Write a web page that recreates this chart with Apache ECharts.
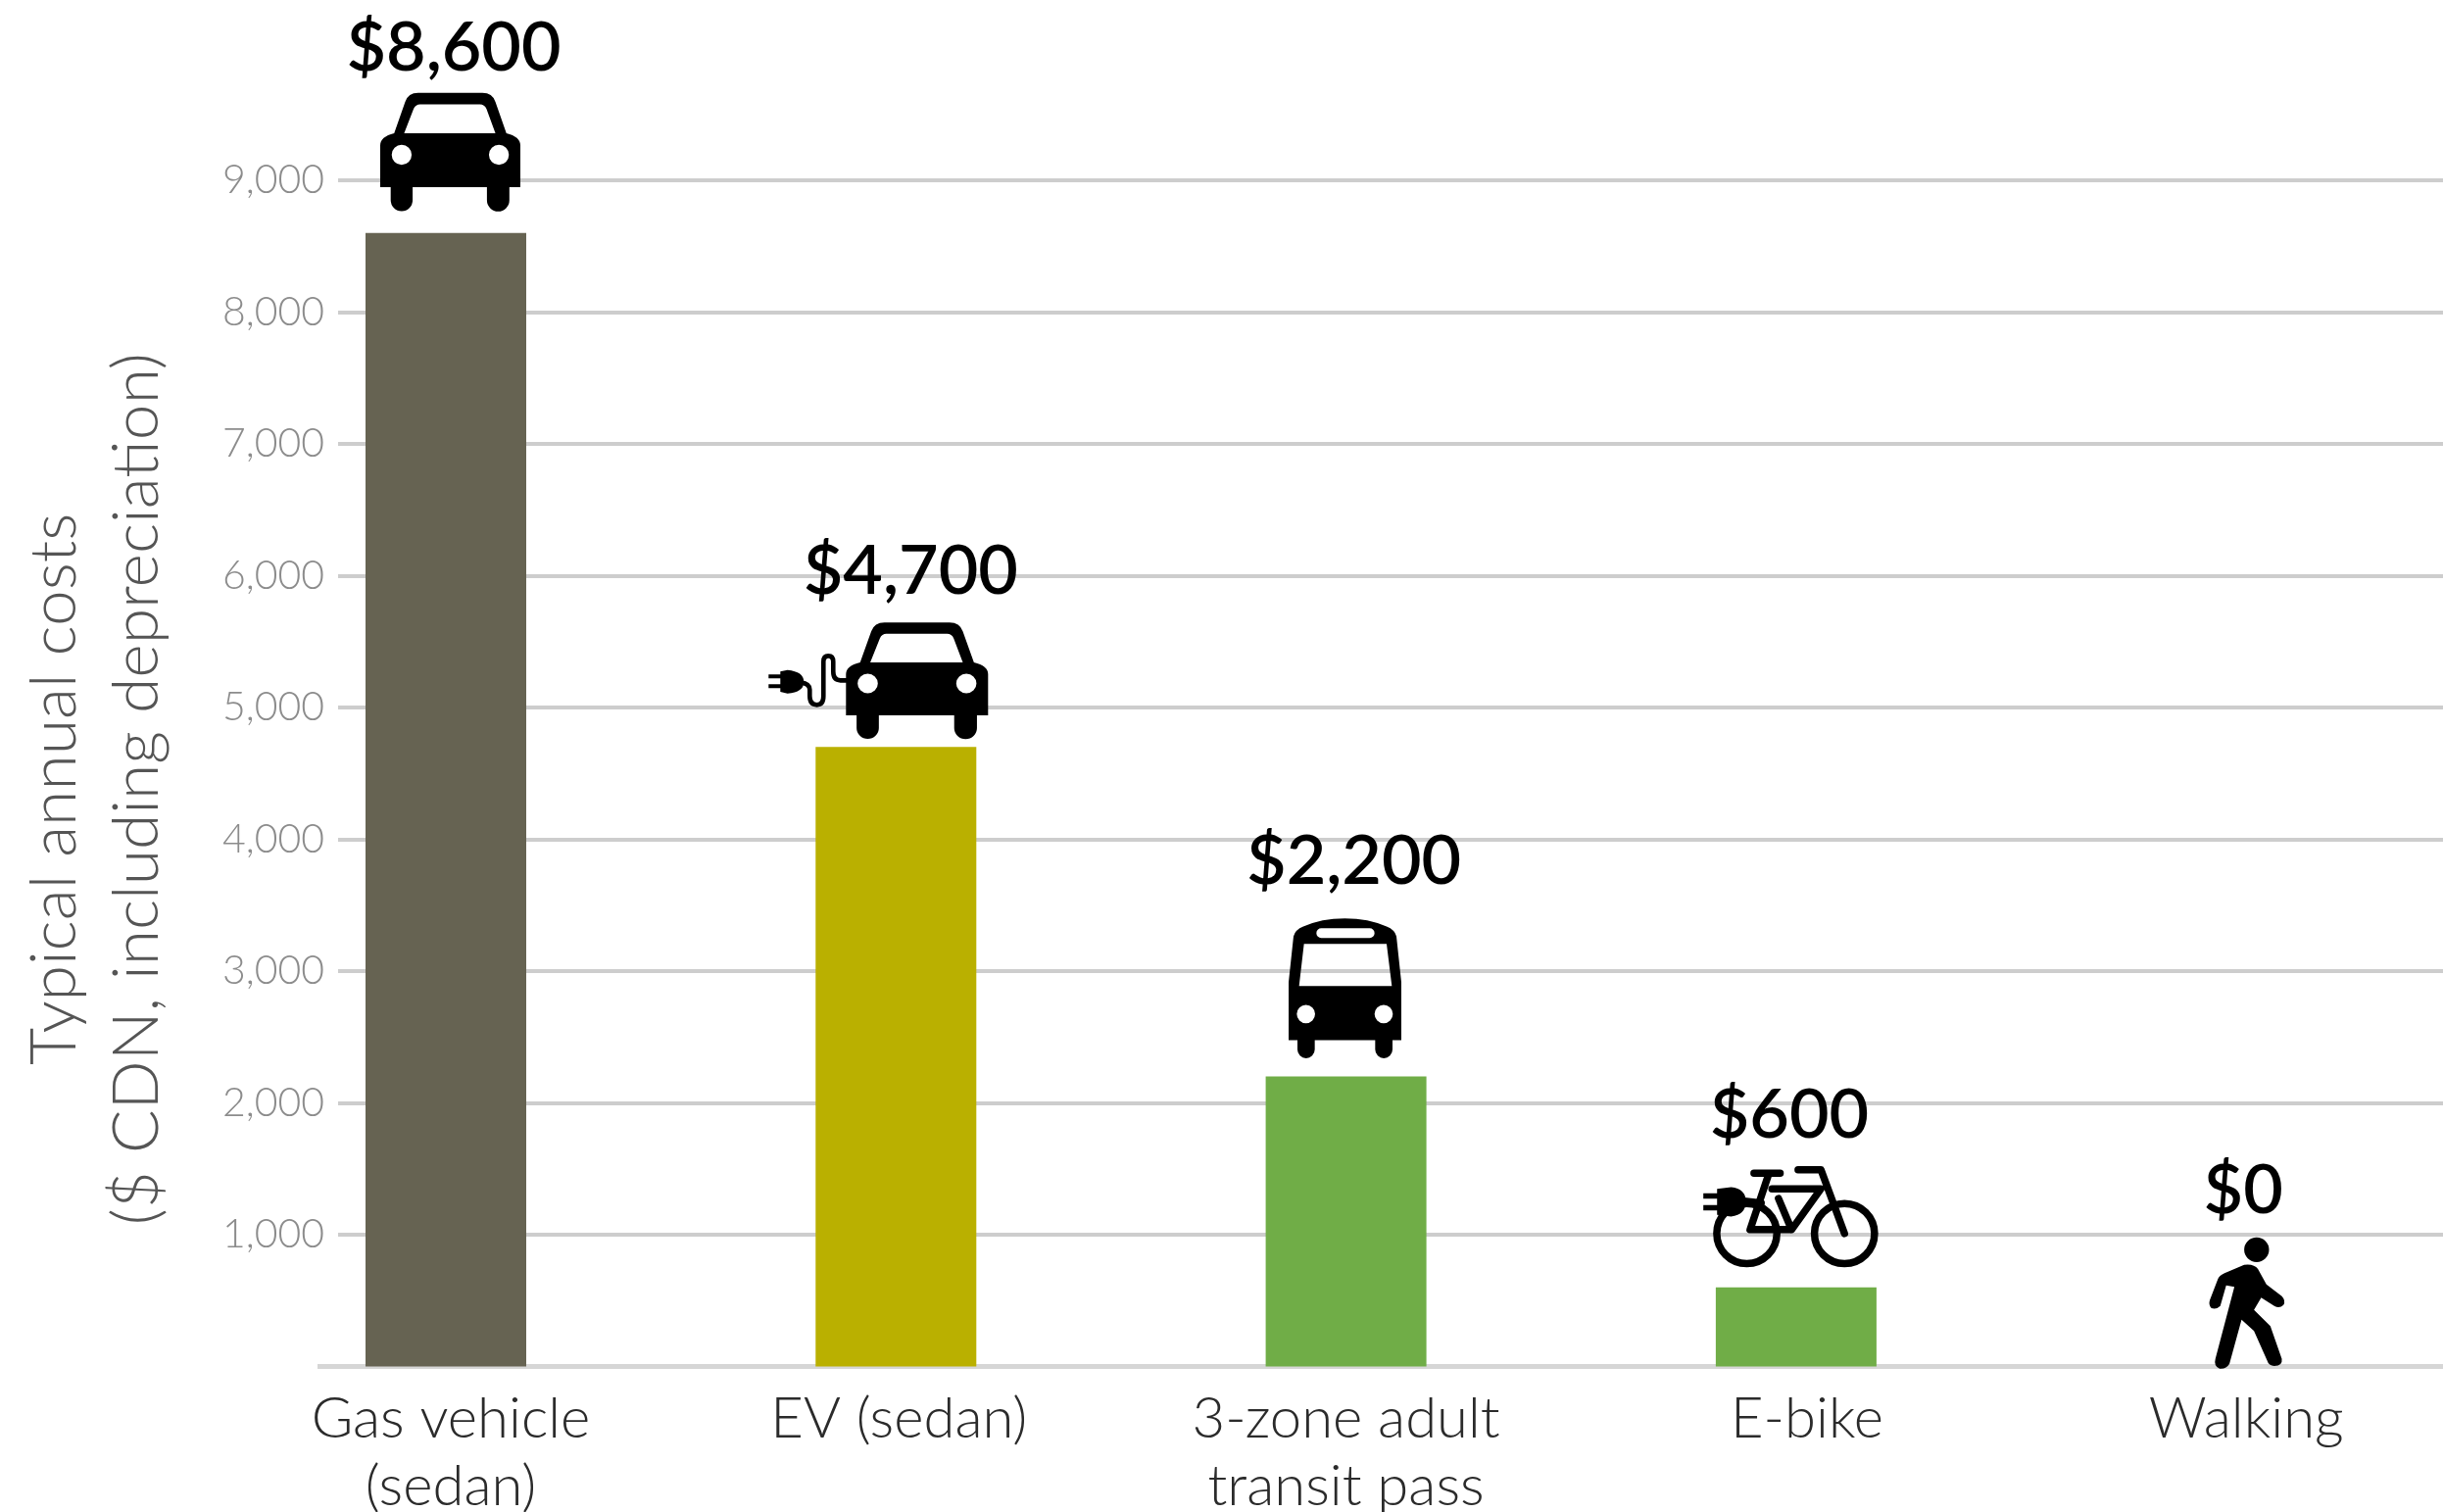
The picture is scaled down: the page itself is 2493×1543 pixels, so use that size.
<!DOCTYPE html>
<html><head><meta charset="utf-8">
<style>html,body{margin:0;padding:0;background:#fff}#c{width:2493px;height:1543px}</style>
<script src="https://cdn.jsdelivr.net/npm/echarts@6/dist/echarts.min.js"></script>
</head><body><div id="c"></div>
<script>
const categories = ['Gas vehicle\n(sedan)', 'EV (sedan)', '3-zone adult\ntransit pass', 'E-bike', 'Walking'];
const costs = [8600, 4700, 2200, 600, 0];
const barColors = ['#666352', '#bab000', '#70ad47', '#70ad47', '#70ad47'];
const yTicks = [1000, 2000, 3000, 4000, 5000, 6000, 7000, 8000, 9000];
const yTitle = 'Typical annual costs\n($ CDN, including depreciation)';

const carPath = 'M0,105 Q0,88 28,81 L50,18 Q56,0 76,0 L205,0 Q225,0 231,18 L253,81 Q281,88 281,105 L281,189 L259,189 L259,215 A22,22 0 0 1 214,215 L214,189 L65,189 L65,215 A22,22 0 0 1 21,215 L21,189 L0,189 Z ' +
  'M48,81 L231,81 L213,32 Q209,23 200,23 L80,23 Q71,23 67,32 Z ' +
  'M23,124 A20,20 0 1 0 63,124 A20,20 0 1 0 23,124 Z M218,124 A20,20 0 1 0 258,124 A20,20 0 1 0 218,124 Z';
const busPath = 'M0,195 L15,55 Q20,35 45,25 Q100,0 172,0 Q245,0 300,25 Q325,35 330,55 L345,195 L345,373 L318,373 L318,402 A26,26 0 0 1 265,402 L265,373 L80,373 L80,402 A26,26 0 0 1 27,402 L27,373 L0,373 Z ' +
  'M32,207 L316,207 L300,78 L47,78 Z ' +
  'M100,60 L248,60 A15,15 0 0 0 248,30 L100,30 A15,15 0 0 0 100,60 Z ' +
  'M25,293 A28,28 0 1 0 81,293 A28,28 0 1 0 25,293 Z M263,293 A28,28 0 1 0 319,293 A28,28 0 1 0 263,293 Z';
const evCordPath = 'M280,222 L262,222 Q240,222 240,195 L240,165 Q240,147 225,147 Q210,147 210,165 L210,270 Q210,297 190,297 Q168,297 168,270 L168,250 Q168,232 140,228';
const evPlugPath = 'M42,204 L78,204 L78,195 L100,190 Q150,195 150,226 Q150,258 100,262 L78,257 L78,246 L42,246 L42,234 L78,234 L78,216 L42,216 Z';
const bikeFramePath = 'M96,477 A92,92 0 1 1 280,477 A92,92 0 1 1 96,477 Z M395,477 A92,92 0 1 1 579,477 A92,92 0 1 1 395,477 Z ' +
  'M210,292 L290,292 M255,295 L198,465 L325,465 L415,340 L265,340 M285,370 L325,465 M345,282 L415,282 L487,477 M180,378 L232,384';
const bikePlugPath = 'M55,354 L97,354 L97,340 L140,335 Q185,340 185,378 Q185,420 140,425 L97,420 L97,406 L55,406 L55,390 L97,390 L97,370 L55,370 Z';
const walkerPath = 'M270,316 A38,38 0 1 0 346,316 A38,38 0 1 0 270,316 Z ' +
  'M270,362 Q300,358 312,375 L338,422 L385,458 Q398,472 390,485 Q378,497 362,488 L322,463 L300,500 L350,550 L385,650 Q388,672 362,672 Q345,672 340,655 L300,565 L262,530 L225,665 Q215,682 195,680 Q176,672 182,650 L240,430 L215,425 L197,488 Q185,500 170,495 Q160,485 165,470 L190,405 Q195,395 210,388 Z';

// each icon: pieces with a box [dx, dy, w, h] relative to the top-centre of its bar
const icons = [
  [{ d: carPath, box: [-67, -143, 143, 121] }],
  [{ d: carPath, box: [-51, -127, 145, 119] },
   { d: evCordPath, box: [-97.3, -93, 46.6, 50], line: 4.6 },
   { d: evPlugPath, box: [-130, -78.7, 36, 24] }],
  [{ d: busPath, box: [-58.6, -161.3, 115, 142.6] }],
  [{ d: bikeFramePath, box: [-81, -120, 161, 95.7], line: 7.5 },
   { d: bikePlugPath, box: [-94.7, -102.3, 43.4, 30] }],
  [{ d: walkerPath, box: [-37.7, -131.8, 76.7, 134] }]
];
const valueLabelOffset = [[8, -188], [15, -179], [8, -219], [-7, -175], [-3, -179]];
const labelNudge = [5, 3, 0, 11, 0];

const sans = 'Lato, "Noto Sans", sans-serif';
const catFont = { fontFamily: sans, fontWeight: 300, fontSize: 58, lineHeight: 69, color: '#2b2b2b' };
const catRich = {};
labelNudge.forEach((n, i) => { catRich['c' + i] = Object.assign({ padding: [0, 0, 0, 2 * n] }, catFont); });
const chart = echarts.init(document.getElementById('c'), null, { renderer: 'canvas' });

function renderIcon(params, api) {
  const i = api.value(0), v = api.value(1);
  const p = api.coord([i, v]);
  const children = icons[i].map(piece => ({
    type: 'path',
    shape: { pathData: piece.d, x: piece.box[0], y: piece.box[1], width: piece.box[2], height: piece.box[3], layout: 'cover' },
    style: piece.line
      ? { fill: null, stroke: '#000', lineWidth: piece.line, lineCap: 'round', lineJoin: 'round' }
      : { fill: '#000' }
  }));
  children.push({
    type: 'text',
    x: valueLabelOffset[i][0], y: valueLabelOffset[i][1],
    style: {
      text: '$' + v.toLocaleString('en-US'),
      fontFamily: sans, fontSize: 70, fontWeight: 600, fill: '#000',
      align: 'center', verticalAlign: 'middle'
    }
  });
  return { type: 'group', x: p[0], y: p[1], children };
}

chart.setOption({
  animation: false,
  backgroundColor: '#fff',
  grid: { left: 345, right: 0, top: 184, bottom: 148.5, outerBoundsMode: 'none' },
  xAxis: {
    type: 'value', min: -0.2395, max: 4.4372,
    splitLine: { show: false },
    axisTick: { show: false },
    axisLine: { show: true, lineStyle: { color: '#d6d6d6', width: 5 } },
    axisLabel: Object.assign({
      customValues: [0, 1, 2, 3, 4],
      formatter: v => {
        const i = Math.round(v);
        return categories[i].split('\n').map(line => '{c' + i + '|' + line + '}').join('\n');
      },
      rich: catRich, margin: 19, hideOverlap: false
    }, catFont)
  },
  yAxis: [{
    type: 'value', min: 0, max: 9000, interval: 1000,
    name: yTitle, nameLocation: 'middle', nameRotate: 90, nameGap: 163,
    nameTextStyle: { fontFamily: sans, fontWeight: 300, fontSize: 66, lineHeight: 84, color: '#555', align: 'center', padding: [0, 32, 0, 0] },
    axisLine: { show: false },
    axisTick: { show: false },
    axisLabel: {
      formatter: v => yTicks.includes(v) ? v.toLocaleString('en-US') : '',
      fontFamily: sans, fontWeight: 300, fontSize: 41, color: '#8c8c8c', margin: 14, padding: [2, 0, 0, 0]
    },
    splitLine: { show: true, lineStyle: { color: '#cdcdcd', width: 4 } }
  }, {
    // carries only the stub that lengthens the baseline to the left of the gridlines
    type: 'value', min: 0, max: 9000, interval: 1000, position: 'left',
    axisLine: { show: false }, axisLabel: { show: false }, splitLine: { show: false },
    axisTick: { show: true, customValues: [0], length: 21, lineStyle: { color: '#d6d6d6', width: 5 } }
  }],
  series: [
    {
      type: 'bar', barWidth: 164, silent: true, z: 2,
      data: costs.map((v, i) => ({ value: [i, v], itemStyle: { color: barColors[i] } }))
    },
    {
      type: 'custom', silent: true, z: 5, clip: false,
      encode: { x: 0, y: 1 },
      renderItem: renderIcon,
      data: costs.map((v, i) => [i, v])
    }
  ]
});
</script></body></html>
